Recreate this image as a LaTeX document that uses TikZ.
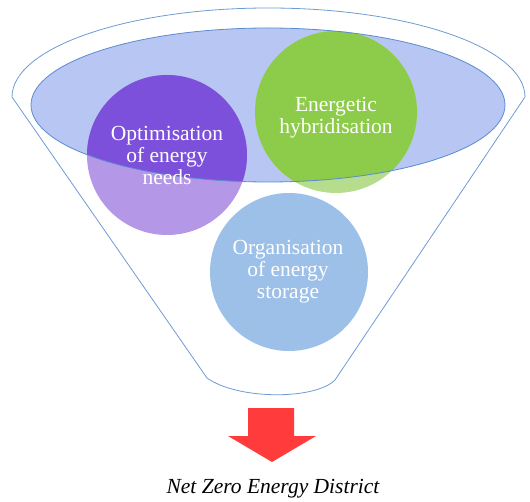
\documentclass[tikz,border=0pt]{standalone}
\usepackage{fontspec}
\setmainfont{Liberation Serif}
\usetikzlibrary{calc}
\definecolor{rimblue}{HTML}{6F9BD3}
\definecolor{ellfill}{HTML}{B7C6F2}
\definecolor{ellline}{HTML}{5C8BD0}
\definecolor{purpleLo}{HTML}{B597E8}
\definecolor{purpleHi}{HTML}{7D50DB}
\definecolor{greenLo}{HTML}{B6DD8E}
\definecolor{greenHi}{HTML}{8DCB4B}
\definecolor{blueCirc}{HTML}{9CC0E8}
\definecolor{arrowred}{HTML}{FF3B3B}
\tikzset{
  x=1pt, y=1pt,
  circtext/.style={circle, minimum size=160pt, inner sep=0pt, align=center,
    text=white, font=\rmfamily\fontsize{21.5}{22}\selectfont},
  goal/.style={font=\rmfamily\fontsize{21.5}{24}\selectfont\itshape, text=black, inner sep=0pt},
}
\begin{document}
\begin{tikzpicture}
\useasboundingbox (0,0) rectangle (530,-502);
% funnel outline
\draw[rimblue, line width=0.8pt]
  (12,-97) arc[start angle=180, end angle=0, x radius=256.5, y radius=89]
  -- (335,-380) .. controls (315,-400) and (238,-400) .. (207,-378) -- cycle;
% inner ellipse fill
\fill[ellfill] (268,-105) ellipse[x radius=237, y radius=77];
% circle fills (outside the ellipse)
\fill[purpleLo] (167,-155) circle[radius=80];
\fill[greenLo] (336,-112) circle[radius=81];
\fill[blueCirc] (289,-272) circle[radius=79];
% parts of the circles inside the ellipse
\begin{scope}
  \clip (268,-105) ellipse[x radius=237, y radius=77];
  \fill[purpleHi] (167,-155) circle[radius=80];
  \fill[greenHi] (336,-112) circle[radius=81];
\end{scope}
% ellipse outline
\draw[ellline, line width=0.8pt] (268,-105) ellipse[x radius=237, y radius=77];
% texts
\node[circtext] (opt) at (167,-155) {Optimisation\\of energy\\needs};
\node[circtext] (hyb) at (336,-118) {Energetic\\hybridisation};
\node[circtext] (sto) at (288,-272) {Organisation\\of energy\\storage};
% red arrow
\fill[arrowred] (248,-408) -- (294,-408) -- (294,-436) -- (316,-436)
  -- (272,-462) -- (228,-436) -- (248,-436) -- cycle;
\node[goal] (nzed) at (273,-489) {Net Zero Energy District};
\end{tikzpicture}
\end{document}
